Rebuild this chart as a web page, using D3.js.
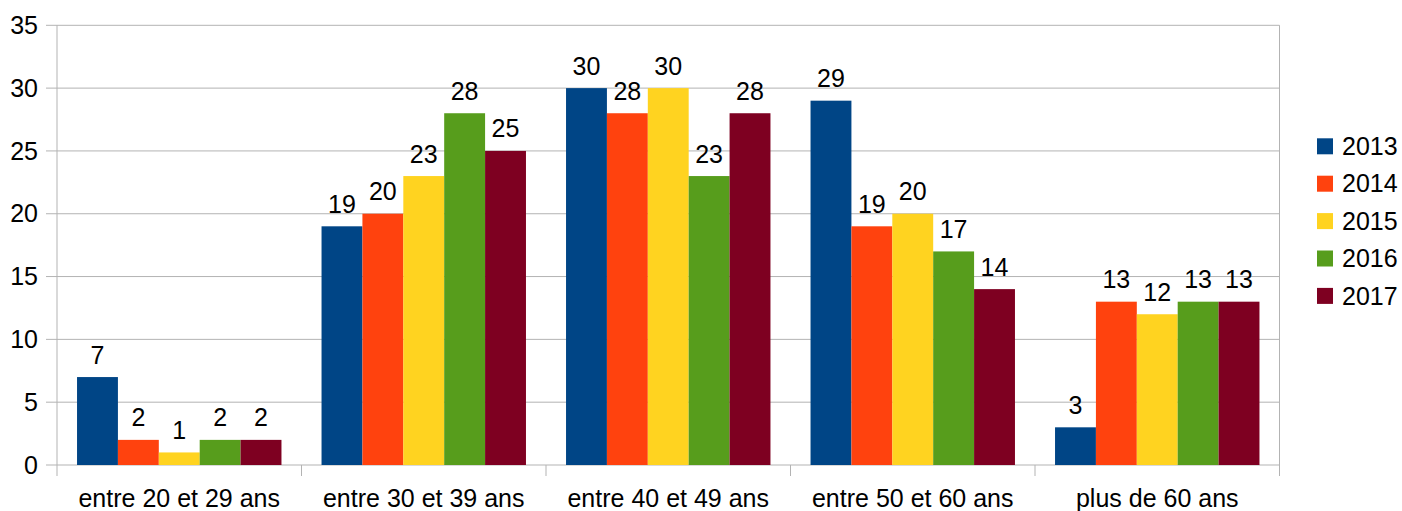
<!DOCTYPE html>
<html>
<head>
<meta charset="utf-8">
<script src="https://cdn.jsdelivr.net/npm/d3@7"></script>
<style>
  html, body { margin: 0; padding: 0; background: #fff; }
  svg { display: block; font-family: "Liberation Sans", Arial, sans-serif; }
</style>
</head>
<body>
<svg id="chart" width="1402" height="511"></svg>
<script>
// Age groups and yearly counts
const categories = ["entre 20 et 29 ans", "entre 30 et 39 ans", "entre 40 et 49 ans", "entre 50 et 60 ans", "plus de 60 ans"];
const years = ["2013", "2014", "2015", "2016", "2017"];
const colors = ["#004586", "#ff420e", "#ffd320", "#579d1c", "#7e0021"];
const v2013 = [7, 19, 30, 29, 3];
const v2014 = [2, 20, 28, 19, 13];
const v2015 = [1, 23, 30, 20, 12];
const v2016 = [2, 28, 23, 17, 13];
const v2017 = [2, 25, 28, 14, 13];
const series = [v2013, v2014, v2015, v2016, v2017];
const yTicks = [0, 5, 10, 15, 20, 25, 30, 35];

const FONT = 25;
const svg = d3.select("#chart");
const plotLeft = 57, plotRight = 1279.5, plotTop = 25.3, plotBottom = 465;

const x0 = d3.scaleBand().domain(categories).range([plotLeft, plotRight]).padding(0);
const x1 = d3.scaleBand().domain(years)
  .range([0, x0.bandwidth()]).paddingInner(0).paddingOuter(0.49);
const y = d3.scaleLinear().domain([0, 35]).range([plotBottom, plotTop]);

// Horizontal gridlines
svg.append("g").selectAll("line").data(yTicks).join("line")
  .attr("x1", plotLeft - 11).attr("x2", plotRight)
  .attr("y1", d => y(d)).attr("y2", d => y(d))
  .attr("stroke", "#b3b3b3").attr("stroke-width", 1);

// Vertical frame lines
svg.append("line").attr("x1", plotLeft).attr("x2", plotLeft).attr("y1", plotTop).attr("y2", plotBottom + 11)
  .attr("stroke", "#b3b3b3");
svg.append("line").attr("x1", plotRight).attr("x2", plotRight).attr("y1", plotTop).attr("y2", plotBottom + 11)
  .attr("stroke", "#b3b3b3");

// Category separator ticks
svg.append("g").selectAll("line").data(categories.slice(1)).join("line")
  .attr("x1", d => x0(d)).attr("x2", d => x0(d))
  .attr("y1", plotBottom).attr("y2", plotBottom + 11)
  .attr("stroke", "#b3b3b3");

// Y tick labels
svg.append("g").selectAll("text").data(yTicks).join("text")
  .attr("x", 38).attr("y", d => y(d)).attr("dy", "0.35em")
  .attr("text-anchor", "end").attr("font-size", FONT).attr("fill", "#000")
  .text(d => d);

// Category labels
svg.append("g").selectAll("text").data(categories).join("text")
  .attr("x", d => x0(d) + x0.bandwidth() / 2).attr("y", 506.5)
  .attr("text-anchor", "middle").attr("font-size", FONT).attr("fill", "#000")
  .text(d => d);

// Bars and value labels
const groups = svg.append("g").selectAll("g").data(categories).join("g")
  .attr("transform", d => `translate(${x0(d)},0)`);

years.forEach((yr, si) => {
  groups.append("rect")
    .attr("x", x1(yr))
    .attr("width", x1.bandwidth())
    .attr("y", (d, ci) => y(series[si][ci]))
    .attr("height", (d, ci) => plotBottom - y(series[si][ci]))
    .attr("fill", colors[si]);
  groups.append("text")
    .attr("x", x1(yr) + x1.bandwidth() / 2)
    .attr("y", (d, ci) => y(series[si][ci]) - 13.5)
    .attr("text-anchor", "middle").attr("font-size", FONT).attr("fill", "#000")
    .text((d, ci) => series[si][ci]);
});

// Legend
const legend = svg.append("g").selectAll("g").data(years).join("g")
  .attr("transform", (d, i) => `translate(1317,${146.3 + i * 37.4})`);
legend.append("rect").attr("x", 0).attr("y", -8).attr("width", 16).attr("height", 16)
  .attr("fill", (d, i) => colors[i]);
legend.append("text").attr("x", 25).attr("y", 0).attr("dy", "0.35em")
  .attr("font-size", FONT).attr("fill", "#000").text(d => d);
</script>
</body>
</html>
